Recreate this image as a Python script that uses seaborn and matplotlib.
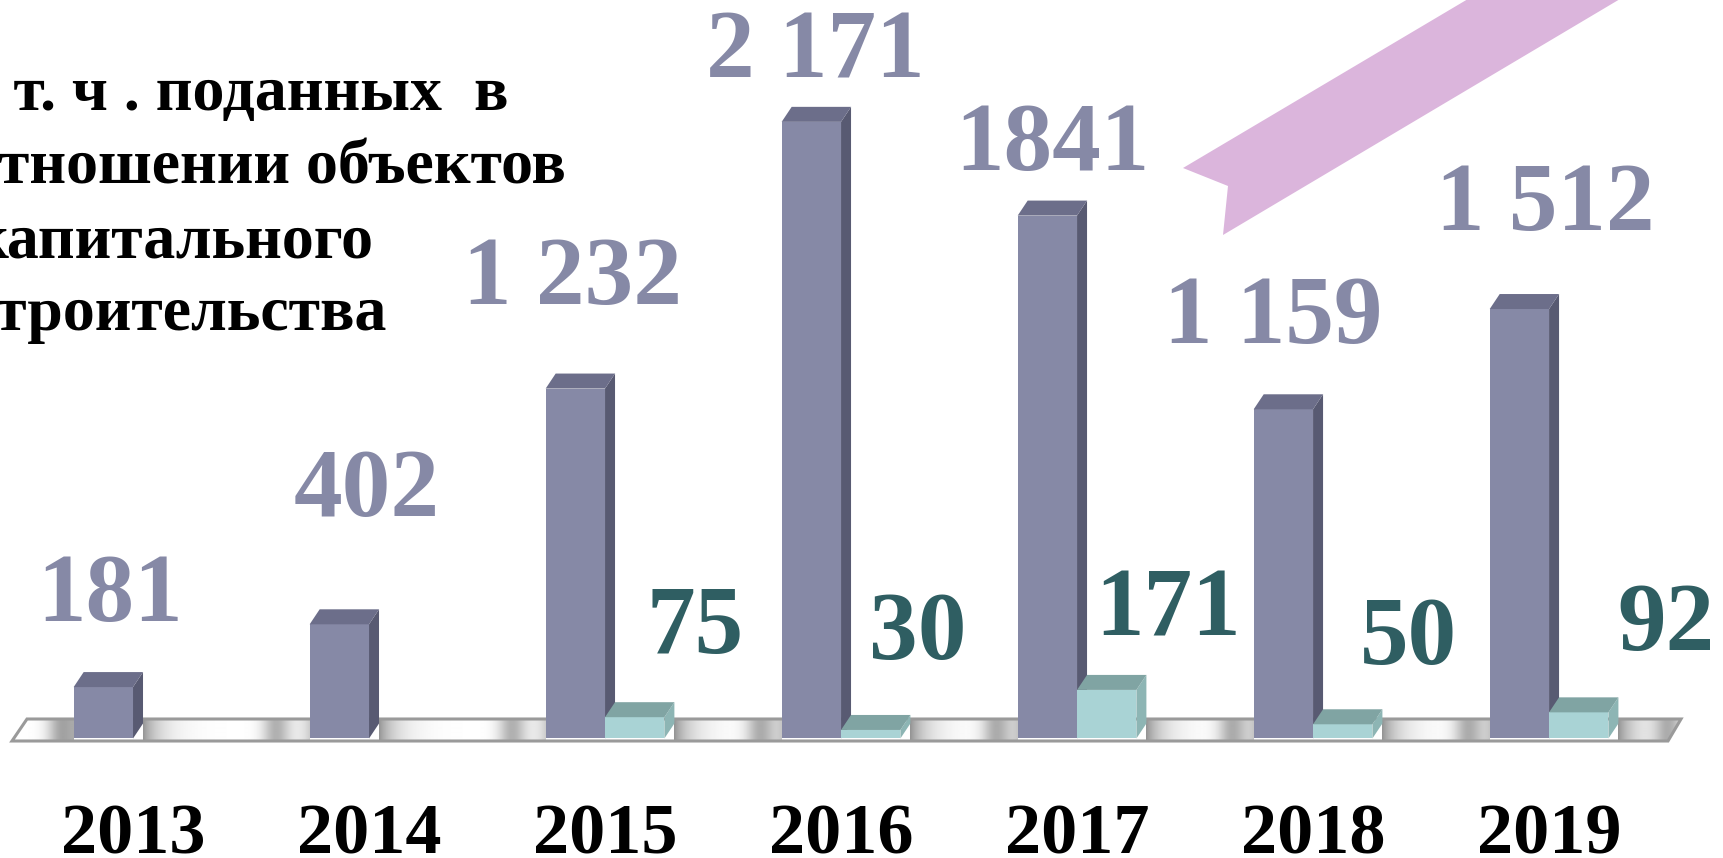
import numpy as np
import pandas as pd
import matplotlib
matplotlib.use("Agg")
import matplotlib.pyplot as plt
import seaborn as sns
from matplotlib.patches import Polygon

# ---------------- data ----------------
years = ["2013", "2014", "2015", "2016", "2017", "2018", "2019"]
total = [181, 402, 1232, 2171, 1841, 1159, 1512]
capital = [np.nan, np.nan, 75, 30, 171, 50, 92]
total_text = ["181", "402", "1 232", "2 171", "1841", "1 159", "1 512"]
capital_text = ["", "", "75", "30", "171", "50", "92"]
series = ["всего", "в т. ч. в отношении ОКС"]
note_lines = ["В  т. ч . поданных  в", "отношении объектов", "капитального", "строительства"]

# ---------------- layout (pixels, origin top-left) ----------------
W, H = 1723, 858
total_label_pos = [(110, 621), (367, 516), (572, 304), (815, 77), (1052, 170), (1273, 343), (1545, 230)]
capital_label_pos = [None, None, (695, 653), (918, 659), (1168, 636), (1409, 664), (1666, 650)]
note_pos = [(508, 110), (566, 184), (374, 257), (387, 330)]
floor_px = [(12, 741), (27, 719), (1681, 719), (1668, 741)]
arrow_px = [(1183, 168), (1228, 186), (1223, 235), (1652, -20), (1500, -20)]
DX, DY = 10, 15

PURPLE, PURPLE_TOP, PURPLE_SIDE = "#8689A6", "#6C6E8A", "#585A72"
TEAL, TEAL_TOP, TEAL_SIDE = "#A9D3D5", "#80A4A3", "#8DB5B4"
PURPLE_TXT, TEAL_TXT = "#8689A6", "#2F5E62"
PINK = "#DBB5DC"

df = pd.DataFrame({
    "year": years * 2,
    "series": [series[0]] * len(years) + [series[1]] * len(years),
    "value": total + capital,
}).dropna()

sns.set_theme(style="white")
plt.rcParams["font.family"] = ["Liberation Serif", "DejaVu Serif"]

fig = plt.figure(figsize=(W / 100, H / 100), dpi=100)
ax_bottom = 86
ax = fig.add_axes([0, ax_bottom / H, 1, 1 - ax_bottom / H])
ax.patch.set_alpha(0)

sns.barplot(data=df, x="year", y="value", hue="series", order=years,
            hue_order=series, palette=[PURPLE, TEAL], saturation=1,
            width=0.503, errorbar=None, legend=False, linewidth=0, ax=ax)

XL, YL = (-0.5636, 6.737), (-118, 2600)
ax.set_xlim(*XL)
ax.set_ylim(*YL)


def d2p(x, y):
    px = ax.transData.transform((x, y))
    return px[0], H - px[1]


def p2d(xp, yp):
    return tuple(ax.transData.inverted().transform((xp, H - yp)))


# 3D faces derived from the seaborn bars
bar_spans = []
for p in ax.patches:
    fc = p.get_facecolor()
    is_purple = np.allclose(fc[:3], matplotlib.colors.to_rgb(PURPLE), atol=0.02)
    top_c, side_c = (PURPLE_TOP, PURPLE_SIDE) if is_purple else (TEAL_TOP, TEAL_SIDE)
    base_z = 3 if is_purple else 4
    p.set_zorder(base_z)
    x0, w, h = p.get_x(), p.get_width(), p.get_height()
    L, B = d2p(x0, 0)
    R, T = d2p(x0 + w, h)
    bar_spans.append((L, R + DX))
    top = [(L, T), (L + DX, T - DY), (R + DX, T - DY), (R, T)]
    side = [(R, B), (R, T), (R + DX, T - DY), (R + DX, B - DY)]
    for poly, c in ((side, side_c), (top, top_c)):
        ax.add_patch(Polygon([p2d(*q) for q in poly], closed=True, facecolor=c,
                             edgecolor="none", zorder=base_z + 0.2))

# floor slab with metallic gradient
floor_poly = Polygon([p2d(*q) for q in floor_px], closed=True, facecolor="none",
                     edgecolor="#9A9A9A", linewidth=2.2, zorder=2)
ax.add_patch(floor_poly)
spans = sorted(bar_spans)
merged = []
for a, b in spans:
    if merged and a <= merged[-1][1] + 1:
        merged[-1] = (merged[-1][0], max(merged[-1][1], b))
    else:
        merged.append((a, b))
xs = np.arange(W) + 0.5
inten = np.ones(W)
edges = [(floor_px[0][0], None)] + merged + [(None, floor_px[2][0])]
for i in range(len(edges) - 1):
    left = edges[i][1] if edges[i][1] is not None else floor_px[0][0]
    right = edges[i + 1][0] if edges[i + 1][0] is not None else floor_px[2][0]
    m = (xs >= left) & (xs <= right)
    xx = xs[m]
    gap = right - left
    val = np.ones_like(xx)
    if edges[i][1] is not None:
        val = val - 0.42 * np.exp(-(xx - left) / 18)
    if edges[i + 1][0] is not None:
        val = val - 0.2 * np.exp(-(right - xx) / 10)
    val = val - 0.3 * np.exp(-((xx - (left + 0.8 * gap)) / 14) ** 2)
    inten[m] = np.clip(val, 0.5, 1.0)
img = np.tile(inten, (2, 1))
x_a, y_top = p2d(0, 719)
x_b, y_bot = p2d(W, 741)
im = ax.imshow(img, cmap="gray", vmin=0, vmax=1, aspect="auto",
               extent=(x_a, x_b, y_bot, y_top), interpolation="bilinear", zorder=1.5)
im.set_clip_path(floor_poly)
ax.set_xlim(*XL)
ax.set_ylim(*YL)

# pink arrow decoration
ax.add_patch(Polygon([p2d(*q) for q in arrow_px], closed=True, facecolor=PINK,
                     edgecolor="none", zorder=1))

# axes styling
ax.set_xlabel("")
ax.set_ylabel("")
ax.set_yticks([])
sns.despine(ax=ax, left=True, bottom=True)
ax.tick_params(axis="x", length=0, pad=23, labelsize=52, colors="black")
for lab in ax.get_xticklabels():
    lab.set_fontweight("bold")

# value labels
for txt, pos in zip(total_text, total_label_pos):
    fig.text(pos[0] / W, 1 - pos[1] / H, txt, ha="center", va="baseline",
             fontsize=70, fontweight="bold", color=PURPLE_TXT)
for txt, pos in zip(capital_text, capital_label_pos):
    if pos is None or not txt:
        continue
    fig.text(pos[0] / W, 1 - pos[1] / H, txt, ha="center", va="baseline",
             fontsize=70, fontweight="bold", color=TEAL_TXT)

# note text (partly cut at the left edge, as in the original slide)
for line, pos in zip(note_lines, note_pos):
    fig.text(pos[0] / W, 1 - pos[1] / H, line, ha="right", va="baseline",
             fontsize=46, fontweight="bold", color="black")

fig.savefig("out.png", dpi=100)
